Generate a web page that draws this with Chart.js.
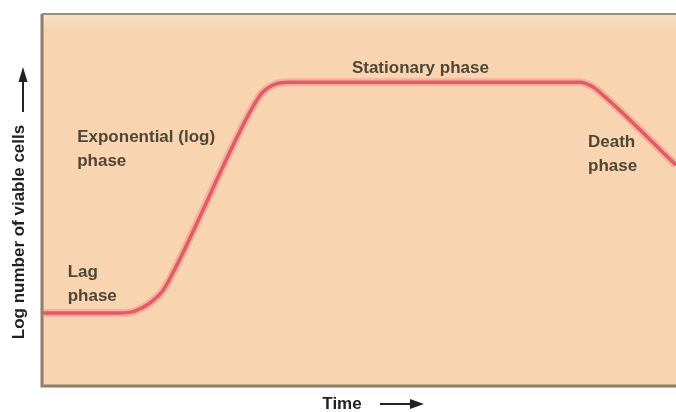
<!DOCTYPE html>
<html>
<head>
<meta charset="utf-8">
<script src="https://cdn.jsdelivr.net/npm/chart.js@4"></script>
<style>
  html, body { margin: 0; padding: 0; background: #fff; }
  #wrap { width: 676px; height: 412px; }
</style>
</head>
<body>
<div id="wrap"><canvas id="growthChart" width="676" height="412"></canvas></div>
<script>
// bacterial growth curve, time vs log of viable cells (arbitrary units)
var timeValues = [0, 12.2, 14.5, 16.9, 19, 20.9, 32.7, 34.6, 36.7, 39, 84.8, 86.7, 88.7, 100];
var logCells = [1.94, 1.94, 1.99, 2.21, 2.56, 3.15, 7.36, 7.87, 8.11, 8.16, 8.16, 8.05, 7.78, 5.93];

var phaseNames = [["Stationary phase"], ["Exponential (log)", "phase"], ["Lag", "phase"], ["Death", "phase"]];
var phaseTime = [48.8, 5.4, 3.9, 86.1];
var phaseLog = [8.54, 6.68, 3.05, 6.55];

var points = timeValues.map(function (t, i) { return { x: t, y: logCells[i] }; });

var textColor = '#4f4636';
var frameColor = '#8d7d6a';

// draws the peach plot area and the frame
var backdrop = {
    id: 'backdrop',
    beforeDraw: function (chart) {
        var c = chart.ctx, a = chart.chartArea;
        c.save();
        var g = c.createLinearGradient(0, a.top, 0, a.top + 16);
        g.addColorStop(0, '#f5dfc8');
        g.addColorStop(1, '#f8d5b0');
        c.fillStyle = g;
        c.fillRect(a.left, a.top, a.right - a.left, a.bottom - a.top);
        c.strokeStyle = frameColor;
        c.lineWidth = 3;
        c.beginPath();
        c.moveTo(a.left - 1, a.top);
        c.lineTo(a.left - 1, a.bottom + 1);
        c.lineTo(a.right, a.bottom + 1);
        c.stroke();
        c.lineWidth = 2;
        c.strokeStyle = '#a08c74';
        c.beginPath();
        c.moveTo(a.left - 1, a.top);
        c.lineTo(a.right, a.top);
        c.stroke();
        c.restore();
    },
    afterDraw: function (chart) {
        var c = chart.ctx;
        var xs = chart.scales.x, ys = chart.scales.y;
        c.save();
        c.fillStyle = textColor;
        c.font = 'bold 17px "Liberation Sans", Arial, sans-serif';
        c.textAlign = 'left';
        c.textBaseline = 'middle';
        phaseNames.forEach(function (lines, i) {
            var px = xs.getPixelForValue(phaseTime[i]);
            var py = ys.getPixelForValue(phaseLog[i]);
            lines.forEach(function (txt, j) {
                c.fillText(txt, px, py + j * 24);
            });
        });

        // axis titles with arrows
        c.fillStyle = '#222';
        c.strokeStyle = '#222';
        c.font = 'bold 17px "Liberation Sans", Arial, sans-serif';
        c.textAlign = 'center';
        c.fillText('Time', 342, 404);
        c.lineWidth = 2;
        c.beginPath();
        c.moveTo(380, 404);
        c.lineTo(414, 404);
        c.stroke();
        c.beginPath();
        c.moveTo(424, 404);
        c.lineTo(410, 399);
        c.lineTo(410, 409);
        c.closePath();
        c.fill();

        c.save();
        c.translate(19, 232);
        c.rotate(-Math.PI / 2);
        c.fillText('Log number of viable cells', 0, 0);
        c.restore();
        c.beginPath();
        c.moveTo(23, 112);
        c.lineTo(23, 78);
        c.stroke();
        c.beginPath();
        c.moveTo(23, 67);
        c.lineTo(18.5, 82);
        c.lineTo(27.5, 82);
        c.closePath();
        c.fill();
        c.restore();
    }
};

var ctx = document.getElementById('growthChart').getContext('2d');
var chart = new Chart(ctx, {
    type: 'line',
    data: {
        datasets: [{
            // soft halo under the curve
            data: points,
            borderColor: 'rgba(244, 140, 140, 0.5)',
            borderWidth: 8,
            pointRadius: 0,
            cubicInterpolationMode: 'monotone',
            fill: false
        }, {
            data: points,
            borderColor: '#cc2f3e',
            borderWidth: 3.5,
            pointRadius: 0,
            cubicInterpolationMode: 'monotone',
            fill: false
        }]
    },
    options: {
        responsive: false,
        animation: false,
        layout: { padding: { left: 43, top: 14, right: 0, bottom: 27 } },
        plugins: { legend: { display: false }, tooltip: { enabled: false } },
        scales: {
            x: { type: 'linear', min: 0, max: 100, display: false },
            y: { type: 'linear', min: 0, max: 10, display: false }
        }
    },
    plugins: [backdrop]
});
</script>
</body>
</html>
